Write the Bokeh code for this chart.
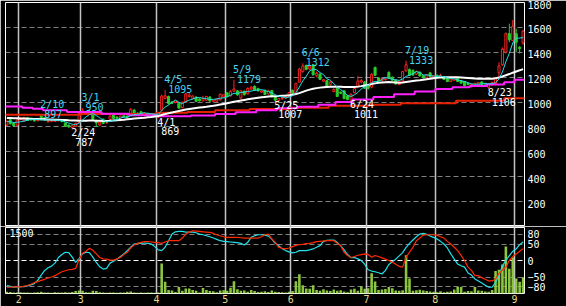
import numpy as np
from bokeh.plotting import figure
from bokeh.layouts import column
from bokeh.models import Range1d, LinearAxis, FixedTicker, Grid
from bokeh.core.properties import value
from bokeh.embed import file_html
from bokeh.resources import INLINE

# ---------------- data ----------------
month_labels = ["2", "3", "4", "5", "6", "7", "8", "9"]
month_start = [4, 22, 44, 64, 83, 105, 125, 148]   # candle index of first trading day

opens = [
    815, 858, 830, 815, 860, 848, 875, 860, 865, 850,
    890, 875, 842, 845, 845, 850, 850, 832, 815, 795,
    805, 835, 905, 915, 925, 905, 852, 815, 862, 835,
    860, 895, 880, 870, 890, 888, 895, 935, 910, 922,
    900, 910, 895, 908, 880, 935, 1030, 1045, 1000, 995,
    990, 955, 1000, 1045, 1030, 1040, 1025, 1010, 1015, 1040,
    1005, 1008, 1018, 1040, 1075, 1050, 1088, 1090, 1032, 1088,
    1065, 1105, 1125, 1110, 1080, 1095, 1065, 1092, 1040, 1012,
    1028, 1032, 1045, 1095, 1065, 1160, 1245, 1295, 1265, 1300,
    1215, 1225, 1168, 1172, 1140, 1085, 1112, 1080, 1090, 1050,
    1015, 1075, 1122, 1160, 1162, 1140, 1120, 1278, 1195, 1172,
    1180, 1238, 1200, 1178, 1140, 1170, 1250, 1262, 1255, 1225,
    1240, 1212, 1195, 1235, 1198, 1215, 1198, 1205, 1190, 1165,
    1175, 1192, 1172, 1165, 1150, 1122, 1125, 1140, 1162, 1150,
    1118, 1140, 1150, 1235, 1300, 1400, 1550, 1495, 1550, 1440,
    1475]
highs = [
    852, 866, 838, 862, 878, 882, 880, 865, 870, 868,
    897, 880, 856, 855, 858, 856, 853, 836, 820, 815,
    835, 915, 950, 928, 935, 910, 860, 848, 868, 845,
    895, 902, 885, 892, 895, 892, 952, 945, 918, 930,
    915, 915, 912, 912, 915, 1060, 1095, 1052, 1008, 1015,
    998, 1005, 1075, 1075, 1055, 1045, 1030, 1050, 1050, 1048,
    1020, 1030, 1070, 1062, 1080, 1095, 1179, 1098, 1095, 1092,
    1118, 1130, 1135, 1115, 1095, 1100, 1100, 1098, 1045, 1035,
    1040, 1050, 1082, 1100, 1155, 1275, 1312, 1300, 1300, 1305,
    1245, 1230, 1185, 1178, 1170, 1112, 1118, 1085, 1095, 1058,
    1070, 1115, 1210, 1185, 1168, 1145, 1235, 1285, 1200, 1195,
    1195, 1248, 1205, 1182, 1175, 1250, 1333, 1270, 1262, 1255,
    1245, 1218, 1225, 1240, 1215, 1222, 1228, 1210, 1195, 1190,
    1195, 1196, 1178, 1168, 1155, 1148, 1155, 1162, 1166, 1155,
    1150, 1165, 1200, 1320, 1440, 1560, 1630, 1660, 1590, 1450,
    1580]
lows = [
    808, 820, 800, 800, 855, 842, 848, 850, 845, 846,
    858, 850, 836, 840, 842, 844, 838, 802, 795, 787,
    800, 832, 895, 905, 910, 855, 800, 805, 822, 825,
    855, 862, 865, 866, 876, 875, 890, 902, 900, 905,
    895, 895, 888, 880, 869, 930, 1020, 980, 985, 990,
    945, 950, 995, 1035, 1020, 1000, 1005, 1005, 1010, 1000,
    998, 1000, 1012, 1032, 1040, 1045, 1080, 1050, 1025, 1050,
    1060, 1095, 1090, 1085, 1075, 1055, 1060, 1038, 1007, 1008,
    1018, 1028, 1040, 1065, 1060, 1155, 1235, 1255, 1255, 1210,
    1200, 1178, 1160, 1115, 1135, 1078, 1040, 1065, 1022, 1015,
    1011, 1070, 1118, 1150, 1105, 1100, 1110, 1210, 1165, 1165,
    1172, 1185, 1172, 1140, 1135, 1165, 1245, 1210, 1210, 1220,
    1205, 1190, 1188, 1200, 1192, 1195, 1195, 1178, 1160, 1160,
    1170, 1160, 1148, 1128, 1135, 1118, 1120, 1136, 1138, 1140,
    1106, 1130, 1145, 1200, 1290, 1390, 1480, 1490, 1400, 1390,
    1460]
closes = [
    845, 825, 808, 855, 872, 876, 852, 856, 848, 862,
    865, 855, 850, 852, 855, 852, 842, 806, 800, 810,
    830, 908, 930, 922, 912, 862, 832, 840, 828, 840,
    888, 868, 870, 888, 880, 878, 940, 908, 905, 908,
    912, 898, 908, 885, 910, 1048, 1050, 988, 990, 1010,
    952, 998, 1065, 1055, 1048, 1005, 1010, 1030, 1045, 1008,
    1015, 1025, 1062, 1058, 1045, 1085, 1105, 1058, 1090, 1060,
    1110, 1120, 1095, 1090, 1090, 1060, 1090, 1042, 1015, 1028,
    1035, 1045, 1075, 1070, 1148, 1265, 1290, 1262, 1290, 1220,
    1232, 1182, 1180, 1120, 1160, 1100, 1045, 1070, 1028, 1020,
    1062, 1108, 1168, 1172, 1110, 1110, 1222, 1215, 1170, 1190,
    1188, 1192, 1176, 1145, 1168, 1245, 1300, 1215, 1218, 1245,
    1210, 1195, 1220, 1205, 1212, 1200, 1212, 1182, 1165, 1185,
    1190, 1165, 1152, 1132, 1140, 1142, 1150, 1156, 1142, 1145,
    1140, 1158, 1195, 1290, 1425, 1550, 1500, 1610, 1480, 1430,
    1570]

# short moving average (cyan)
ma_short = [
    845, 842, 835, 838, 841, 847, 853, 862, 861, 859,
    857, 857, 856, 857, 855, 853, 850, 841, 831, 822,
    818, 831, 856, 880, 900, 907, 892, 874, 855, 840,
    846, 853, 859, 871, 879, 877, 891, 899, 902, 908,
    915, 906, 906, 902, 903, 930, 960, 976, 997, 1017,
    998, 988, 1003, 1016, 1024, 1034, 1037, 1030, 1028, 1020,
    1022, 1025, 1031, 1034, 1041, 1055, 1071, 1070, 1077, 1080,
    1085, 1088, 1095, 1095, 1101, 1091, 1085, 1074, 1059, 1047,
    1042, 1033, 1040, 1051, 1075, 1121, 1170, 1207, 1251, 1265,
    1259, 1237, 1221, 1187, 1175, 1148, 1121, 1099, 1081, 1053,
    1045, 1058, 1077, 1106, 1124, 1134, 1156, 1166, 1165, 1181,
    1197, 1191, 1183, 1178, 1174, 1185, 1207, 1215, 1229, 1245,
    1238, 1217, 1218, 1215, 1208, 1206, 1210, 1202, 1194, 1189,
    1187, 1177, 1171, 1165, 1156, 1146, 1143, 1144, 1146, 1147,
    1147, 1148, 1156, 1186, 1242, 1324, 1392, 1475, 1513, 1514,
    1518]
# medium moving average (white)
ma_mid = [
    872, 871, 870, 869, 868, 867, 866, 865, 864, 863,
    862, 861, 860, 859, 858, 857, 856, 855, 853, 852,
    851, 850, 850, 850, 851, 851, 850, 849, 848, 848,
    849, 852, 854, 856, 858, 861, 864, 867, 870, 872,
    874, 877, 880, 884, 888, 896, 904, 910, 916, 922,
    928, 934, 940, 945, 949, 953, 956, 959, 962, 966,
    970, 975, 980, 985, 990, 996, 1002, 1007, 1012, 1017,
    1022, 1026, 1030, 1034, 1038, 1041, 1044, 1046, 1047, 1048,
    1050, 1052, 1055, 1059, 1064, 1072, 1082, 1092, 1100, 1107,
    1112, 1116, 1119, 1121, 1122, 1123, 1123, 1122, 1121, 1120,
    1120, 1121, 1124, 1128, 1133, 1138, 1145, 1150, 1155, 1158,
    1160, 1161, 1160, 1158, 1156, 1158, 1162, 1166, 1170, 1173,
    1176, 1180, 1184, 1188, 1192, 1195, 1197, 1198, 1199, 1200,
    1200, 1199, 1198, 1196, 1194, 1192, 1190, 1188, 1187, 1187,
    1187, 1188, 1192, 1198, 1206, 1215, 1225, 1236, 1246, 1255,
    1265]
# long averages, drawn as steps (start index, level)
ma_long_start = [0, 5, 8, 11, 18, 28, 36, 44, 54, 61, 67, 73, 79, 85, 91,
                 96, 101, 107, 113, 119, 125, 130, 135, 140, 145, 148]
ma_long_val = [964, 955, 946, 934, 920, 906, 894, 886, 892, 905, 918, 935, 950,
               962, 978, 1000, 1020, 1040, 1062, 1085, 1105, 1118, 1130, 1142,
               1160, 1180]
ma_vlong_start = [0, 22, 44, 53, 61, 71, 83, 94, 106, 115, 131, 145]
ma_vlong_val = [898, 905, 915, 920, 935, 945, 955, 970, 978, 991, 1010, 1030]

volume = [
    40, 35, 20, 25, 30, 20, 25, 15, 20, 30,
    40, 25, 20, 15, 30, 20, 25, 30, 20, 35,
    55, 70, 60, 30, 25, 65, 55, 30, 20, 15,
    25, 20, 15, 20, 25, 40, 45, 20, 15, 20,
    15, 20, 20, 15, 25, 680, 265, 80, 70, 35,
    150, 60, 115, 115, 80, 60, 25, 125, 80, 55,
    50, 30, 70, 75, 60, 130, 280, 95, 60, 70,
    40, 80, 55, 35, 40, 50, 35, 70, 40, 35,
    30, 25, 40, 55, 280, 440, 190, 115, 110, 190,
    80, 60, 95, 70, 55, 90, 60, 75, 45, 30,
    90, 110, 60, 165, 110, 120, 460, 270, 80, 90,
    100, 150, 120, 70, 60, 75, 870, 340, 60, 75,
    85, 70, 55, 45, 40, 30, 50, 30, 40, 45,
    90, 150, 150, 40, 55, 50, 150, 70, 60, 45,
    40, 80, 510, 540, 660, 1070, 560, 820, 340, 265,
    370]
vol_max = 1500

osc_fast = [
    -76, -78, -81, -80, -79, -79, -77, -74, -70, -60,
    -44, -30, -22, -17, -8, 9, 18, 25, 24, 10,
    -6, 6, 20, 25, 24, 10, -6, -19, -26, -24,
    -8, -2, 4, 12, 20, 30, 40, 50, 52, 52,
    53, 52, 50, 42, 32, 30, 40, 60, 80, 87,
    88, 88, 86, 86, 86, 84, 80, 78, 75, 72,
    68, 64, 60, 58, 57, 56, 55, 54, 52, 47,
    55, 70, 75, 78, 78, 77, 74, 65, 52, 45,
    36, 30, 26, 23, 25, 30, 30, 30, 32, 35,
    40, 45, 58, 61, 62, 62, 55, 45, 32, 18,
    9, 9, 5, 0, -12, -28, -32, -34, -37, -41,
    -30, -12, -4, 4, 14, 24, 40, 52, 62, 72,
    80, 82, 79, 74, 70, 65, 58, 50, 38, 20,
    4, -11, -16, -20, -38, -44, -56, -62, -68, -75,
    -81, -81, -66, -45, -16, 0, 15, 28, 35, 48,
    56]
osc_slow = [
    -81, -81, -80, -80, -80, -78, -76, -72, -67, -64,
    -60, -57, -53, -50, -46, -40, -34, -31, -28, -27,
    -24, 2, 22, 28, 37, 31, 20, 9, 5, 4,
    1, 1, 5, 9, 18, 25, 38, 47, 52, 55,
    57, 57, 56, 55, 54, 52, 56, 60, 60, 60,
    60, 68, 80, 86, 90, 89, 88, 87, 86, 85,
    82, 78, 75, 72, 70, 70, 70, 70, 69, 68,
    68, 68, 68, 68, 72, 78, 80, 65, 55, 40,
    37, 35, 38, 42, 46, 48, 49, 51, 52, 54,
    57, 58, 59, 60, 60, 60, 52, 45, 25, 15,
    9, 12, 16, 18, 20, 18, 10, 15, 12, 8,
    4, 0, -5, -11, -18, -20, 10, 25, 40, 60,
    68, 77, 78, 78, 78, 77, 72, 68, 58, 50,
    40, 30, 15, 0, -20, -30, -46, -46, -52, -57,
    -62, -62, -56, -40, -28, -20, 0, 12, 20, 28,
    36]

hi_idx = [10, 22, 46, 66, 86, 116]
hi_date = ["2/10", "3/1", "4/5", "5/9", "6/6", "7/19"]
lo_idx = [19, 44, 78, 100, 140]
lo_date = ["2/24", "4/1", "5/25", "6/24", "8/23"]

price_ticks = [200, 400, 600, 800, 1000, 1200, 1400, 1600, 1800]
osc_ticks = [-80, -50, 0, 50, 80]

# ---------------- styling ----------------
FONT = "DejaVu Sans Mono"
UP = "#ff2222"
DN = "#2ccc2c"
CYAN = "#22e0ea"
CYAN_TXT = "#44d4f4"
MAG = "#ff22ff"
REDMA = "#e82000"
VOL = "#8cc63f"
GRID_GRAY = "#808080"
MONTH_GRAY = "#c4c4c4"
XLAB = "#e4da8c"

n = len(closes)
for arr in (opens, highs, lows, ma_short, ma_mid, volume, osc_fast, osc_slow):
    assert len(arr) == n, len(arr)

xs = np.arange(n) + 0.5
o = np.array(opens, float)
h = np.array(highs, float)
lo = np.array(lows, float)
c = np.array(closes, float)
up = c >= o
dn = ~up

X0, X1 = 0.122, 150.91


def base_fig(height, y_range, top, bottom):
    p = figure(width=566, height=height, x_range=Range1d(X0, X1), y_range=y_range,
               output_backend="svg", toolbar_location=None,
               x_axis_location=None, y_axis_location=None,
               min_border_left=5, min_border_right=42,
               min_border_top=top, min_border_bottom=bottom,
               background_fill_color="black", border_fill_color="black",
               outline_line_color="white", outline_line_width=1)
    p.grid.visible = False
    return p


def style_axis(ax, color="white", standoff=3):
    ax.axis_line_color = None
    ax.major_tick_line_color = None
    ax.minor_tick_line_color = None
    ax.major_tick_in = 0
    ax.major_tick_out = 0
    ax.major_label_text_color = color
    ax.major_label_text_font = FONT
    ax.major_label_text_font_size = "10px"
    ax.major_label_standoff = standoff


def step_xy(starts, vals):
    return list(starts) + [n], list(vals) + [vals[-1]]


# ---------------- main price panel ----------------
p1 = base_fig(226, Range1d(0, 1800), 2, 0)
p1.add_layout(Grid(dimension=1, ticker=FixedTicker(ticks=price_ticks[:-1]),
                   grid_line_color=GRID_GRAY, grid_line_dash="5 3", grid_line_width=1))
p1.add_layout(Grid(dimension=0, ticker=FixedTicker(ticks=month_start),
                   grid_line_color=MONTH_GRAY, grid_line_width=1.5))

p1.segment(xs[up], lo[up], xs[up], h[up], line_color=UP, line_width=1)
p1.segment(xs[dn], lo[dn], xs[dn], h[dn], line_color=DN, line_width=1)
p1.vbar(x=xs[up], width=0.6, top=c[up], bottom=o[up],
        fill_color="black", line_color=UP, line_width=1)
p1.vbar(x=xs[dn], width=0.6, top=o[dn], bottom=c[dn],
        fill_color=DN, line_color=DN, line_width=1)

sx, sy = step_xy(ma_vlong_start, ma_vlong_val)
p1.step(sx, sy, mode="after", line_color=REDMA, line_width=2)
sx, sy = step_xy(ma_long_start, ma_long_val)
p1.step(sx, sy, mode="after", line_color=MAG, line_width=2)
p1.line(xs, ma_mid, line_color="white", line_width=2)
p1.line(xs, ma_short, line_color=CYAN, line_width=1)

hx = [xs[i] for i in hi_idx]
hy = [highs[i] for i in hi_idx]
lx = [xs[i] for i in lo_idx]
ly = [lows[i] for i in lo_idx]
txt = dict(text_font=value(FONT), text_font_size="10px",
           text_baseline="middle", text_align="left")
p1.text(x=hx, y=hy, text=hi_date, x_offset=-1, y_offset=-10.5,
        text_color=CYAN_TXT, **txt)
p1.text(x=hx, y=hy, text=[str(v) for v in hy], x_offset=3, y_offset=-1,
        text_color=CYAN_TXT, **txt)
p1.text(x=lx, y=ly, text=lo_date, x_offset=-1, y_offset=4,
        text_color="white", **txt)
p1.text(x=lx, y=ly, text=[str(v) for v in ly], x_offset=3, y_offset=13,
        text_color="white", **txt)

p1.extra_y_ranges = {"lab": Range1d(16, 1816)}
ax1 = LinearAxis(y_range_name="lab", ticker=FixedTicker(ticks=price_ticks))
style_axis(ax1)
p1.add_layout(ax1, "right")

# ---------------- lower panel (volume + oscillator) ----------------
p2 = base_fig(80, Range1d(-100, 100), 1, 13)
p2.extra_y_ranges = {"vol": Range1d(0, vol_max)}
p2.add_layout(Grid(dimension=1, ticker=FixedTicker(ticks=[t for t in osc_ticks if t != 0]),
                   grid_line_color=GRID_GRAY, grid_line_dash="5 3", grid_line_width=1))
p2.add_layout(Grid(dimension=1, ticker=FixedTicker(ticks=[0]),
                   grid_line_color="white", grid_line_dash="5 3", grid_line_width=1))
p2.add_layout(Grid(dimension=0, ticker=FixedTicker(ticks=month_start),
                   grid_line_color=MONTH_GRAY, grid_line_width=1.5))

p2.vbar(x=xs, width=0.75, top=volume, bottom=0, y_range_name="vol",
        fill_color=VOL, line_color=None)
p2.line(xs, osc_fast, line_color=CYAN, line_width=1.2)
p2.line(xs, osc_slow, line_color="#ff2a00", line_width=1.2)

p2.text(x=[X0], y=[100], text=[str(vol_max)], x_offset=4, y_offset=1,
        text_color="white", text_font=value(FONT), text_font_size="10px",
        text_baseline="top", text_align="left")

ax2 = LinearAxis(ticker=FixedTicker(ticks=osc_ticks))
style_axis(ax2)
p2.add_layout(ax2, "right")

ax3 = LinearAxis(ticker=FixedTicker(ticks=month_start),
                 major_label_overrides={s: m for s, m in zip(month_start, month_labels)})
style_axis(ax3, color=XLAB, standoff=1)
p2.add_layout(ax3, "below")

layout = column(p1, p2, spacing=0)
open("out.html", "w").write(file_html(layout, INLINE, title="chart"))
